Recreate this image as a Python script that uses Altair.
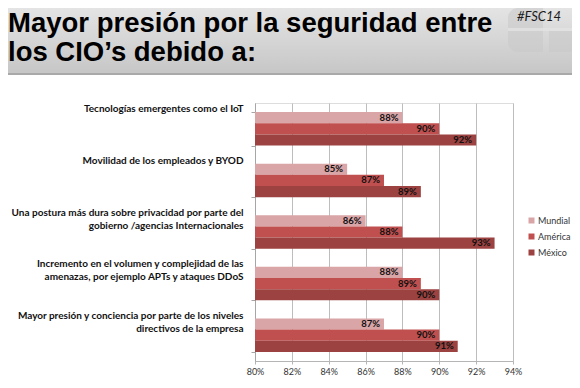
import altair as alt
import pandas as pd

# ---- data ----
categories = [
    "Tecnologías emergentes como el IoT",
    "Movilidad de los empleados y BYOD",
    "Una postura más dura sobre privacidad por parte del\ngobierno /agencias Internacionales",
    "Incremento en el volumen y complejidad de las\namenazas, por ejemplo APTs y ataques DDoS",
    "Mayor presión y conciencia por parte de los niveles\ndirectivos de la empresa",
]
series = ["Mundial", "América", "México"]
mundial = [88, 85, 86, 88, 87]
america = [90, 87, 88, 89, 90]
mexico = [92, 89, 93, 90, 91]
x_ticks = [0.80, 0.82, 0.84, 0.86, 0.88, 0.90, 0.92, 0.94]
colors = ["#D9A5A7", "#C0504F", "#9C4240"]
title_text = "Mayor presión por la seguridad entre\nlos CIO’s debido a:"
hashtag = "#FSC14"

rows = []
for i, c in enumerate(categories):
    for s, vals in zip(series, [mundial, america, mexico]):
        rows.append({"cat": c, "serie": s, "v": vals[i] / 100})
df = pd.DataFrame(rows)

one = pd.DataFrame({"k": [0]})

PL, PT, PR, PB = 247, 95, 59, 19
W, H = 258, 258

# ---- header decoration ----
header = alt.Chart(one).mark_rect(
    color=alt.LinearGradient(
        gradient="linear",
        stops=[alt.GradientStop(color="#e4e4e4", offset=0),
               alt.GradientStop(color="#c6c6c6", offset=1)],
        x1=0, x2=0, y1=0, y2=1,
    )
).encode(x=alt.value(-PL), x2=alt.value(W + PR), y=alt.value(-PT), y2=alt.value(-PT + 66))

header_line = alt.Chart(one).mark_rect(color="#a9a9a9").encode(
    x=alt.value(-PL), x2=alt.value(W + PR), y=alt.value(-PT + 65), y2=alt.value(-PT + 67)
)

deco1 = alt.Chart(one).mark_rect(color="#c8c8c8", opacity=0.55, cornerRadiusBottomLeft=10, cornerRadiusTopLeft=10).encode(
    x=alt.value(500 - PL), x2=alt.value(535 - PL), y=alt.value(-PT), y2=alt.value(44 - PT)
)
deco2 = alt.Chart(one).mark_rect(color="#c8c8c8", opacity=0.55).encode(
    x=alt.value(541 - PL), x2=alt.value(W + PR), y=alt.value(23 - PT), y2=alt.value(44 - PT)
)
deco_gap = alt.Chart(one).mark_rect(color="#e2e2e2", opacity=0.8).encode(
    x=alt.value(500 - PL), x2=alt.value(W + PR), y=alt.value(20 - PT), y2=alt.value(23 - PT)
)

title = alt.Chart(pd.DataFrame({"t": [title_text]})).mark_text(
    align="left", baseline="alphabetic", font="Liberation Sans", fontWeight="bold",
    fontSize=27.5, lineHeight=29, lineBreak="\n", color="#000000",
).encode(x=alt.value(-PL), y=alt.value(24 - PT), text="t:N")

tag = alt.Chart(pd.DataFrame({"t": [hashtag]})).mark_text(
    align="left", baseline="alphabetic", font="Lato", fontStyle="italic",
    fontSize=13, color="#1a1a1a",
).encode(x=alt.value(509 - PL), y=alt.value(13 - PT), text="t:N")

# ---- chart ----
y_enc = alt.Y(
    "cat:N", sort=categories, title=None,
    scale=alt.Scale(paddingInner=0.35, paddingOuter=0.175),
    axis=alt.Axis(
        labelExpr="split(datum.label, '\\n')",
        labelAlign="right", labelBaseline="top", labelOffset=-25,
        labelFont="Lato", labelFontWeight="bold", labelFontSize=10, labelLineHeight=13,
        labelColor="#111111", labelLimit=400, labelPadding=8,
        tickBand="extent", tickSize=4, tickColor="#a6a6a6",
        domainColor="#a6a6a6", grid=False,
    ),
)
yoff = alt.YOffset("serie:N", sort=series, scale=alt.Scale(paddingInner=0, paddingOuter=0))
x_enc = alt.X(
    "v:Q", title=None,
    scale=alt.Scale(domain=[0.80, 0.94], zero=False, nice=False),
    axis=alt.Axis(
        values=x_ticks, format=".0%", labelFont="Lato", labelFontSize=9,
        labelColor="#333333", tickSize=3, tickColor="#b5b5b5", domainColor="#b5b5b5",
        gridColor="#bdbdbd", gridWidth=1, labelPadding=3, labelOverlap=False,
        labelFlush=False,
    ),
)

bars = alt.Chart(df).mark_bar().encode(
    y=y_enc,
    yOffset=yoff,
    x=x_enc,
    x2=alt.datum(0.80),
    color=alt.Color(
        "serie:N", sort=series, scale=alt.Scale(domain=series, range=colors), title=None,
        legend=alt.Legend(
            orient="none", legendX=272, legendY=113, symbolType="square", symbolSize=36,
            symbolStrokeWidth=0, labelFont="Lato", labelFontSize=9, labelColor="#333333",
            rowPadding=6, labelOffset=2, padding=0,
        ),
    ),
)

labels = alt.Chart(df).mark_text(
    align="right", baseline="middle", dx=-4, font="Lato", fontWeight="bold",
    fontSize=9.5, color="#111111",
).encode(
    y=y_enc,
    yOffset=yoff,
    x=x_enc,
    text=alt.Text("v:Q", format=".0%"),
)

chart = alt.layer(header, deco1, deco2, deco_gap, header_line, title, tag, bars, labels).properties(
    width=W, height=H,
    autosize=alt.AutoSizeParams(type="none"),
    padding={"left": PL, "top": PT, "right": PR, "bottom": PB},
).configure_view(stroke=None).configure(background="#ffffff")

chart.save("out.html", embed_options={"renderer": "svg", "actions": False})
